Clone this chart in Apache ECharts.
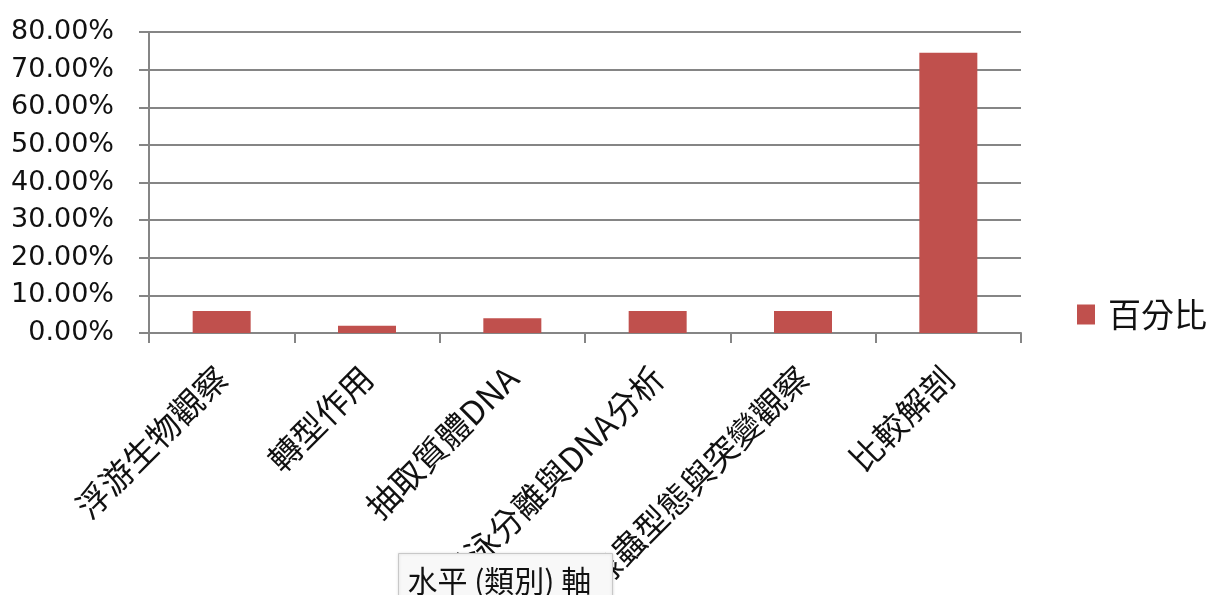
<!DOCTYPE html>
<html>
<head>
<meta charset="utf-8">
<script src="https://cdn.jsdelivr.net/npm/echarts@6/dist/echarts.min.js"></script>
<style>
html,body{margin:0;padding:0;background:#fff;}
#chart{width:1211px;height:595px;}
</style>
</head>
<body>
<div id="chart"></div>
<script>
const categories = ['浮游生物觀察', '轉型作用', '抽取質體DNA', '電泳分離與DNA分析', '線蟲型態與突變觀察', '比較解剖'];
const seriesName = '百分比';
const values = [5.88, 1.96, 3.92, 5.88, 5.88, 74.51];
const yTicks = { min: 0, max: 80, interval: 10 };
const axisTitle = '水平 (類別) 軸';

const chart = echarts.init(document.getElementById('chart'), null, { renderer: 'canvas' });
const gray = '#858585';
chart.setOption({
  backgroundColor: '#ffffff',
  animation: false,
  grid: { left: 149, right: 190, top: 32, bottom: 262, containLabel: false, outerBoundsMode: 'none' },
  legend: {
    data: [seriesName],
    left: 1077, top: 298, padding: 0,
    icon: 'rect', itemWidth: 18, itemHeight: 20, itemGap: 10,
    textStyle: { fontSize: 33, color: '#111', fontFamily: 'Noto Sans CJK TC', padding: [0, 0, 0, 8] }
  },
  xAxis: {
    type: 'category',
    data: categories,
    axisLine: { lineStyle: { color: gray, width: 2 } },
    axisTick: { show: true, length: 10, lineStyle: { color: gray, width: 2 } },
    axisLabel: { rotate: 45, margin: 39, fontSize: 33, color: '#111', fontFamily: 'Noto Sans CJK TC', interval: 0 }
  },
  yAxis: {
    type: 'value',
    min: yTicks.min, max: yTicks.max, interval: yTicks.interval,
    axisLine: { show: true, lineStyle: { color: gray, width: 2 } },
    axisTick: { show: true, length: 10, lineStyle: { color: gray, width: 2 } },
    splitLine: { show: true, lineStyle: { color: gray, width: 2 } },
    axisLabel: { margin: 35, fontSize: 27, color: '#111', fontFamily: 'DejaVu Sans',
      formatter: v => v.toFixed(2) + '%' }
  },
  series: [{
    name: seriesName,
    type: 'bar',
    data: values,
    barWidth: 58,
    itemStyle: { color: '#C0504D' }
  }],
  graphic: [{
    type: 'group', left: 398, top: 553, z: 100,
    children: [
      { type: 'rect', z: 100, shape: { x: 0, y: 0, width: 214, height: 50 },
        style: { fill: '#f8f8f8', stroke: '#c8c8c8', lineWidth: 1, shadowBlur: 3, shadowColor: 'rgba(0,0,0,0.15)' } },
      { type: 'text', z: 101, x: 9, y: 27,
        style: { text: axisTitle, fontSize: 30, fill: '#111', fontFamily: 'Noto Sans CJK TC', verticalAlign: 'middle' } }
    ]
  }]
});
</script>
</body>
</html>
